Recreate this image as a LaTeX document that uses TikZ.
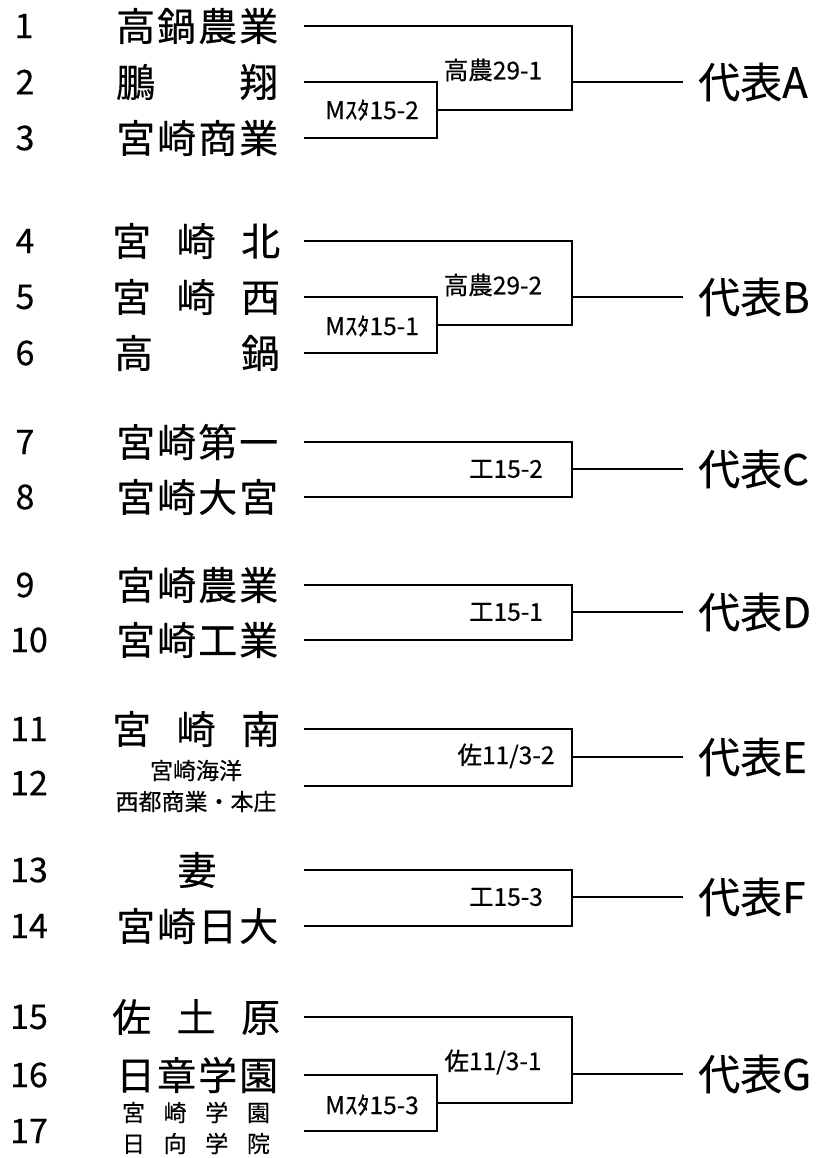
\documentclass[tikz,border=0pt]{standalone}
\usepackage{fontspec}
\newfontfamily\jp[FakeBold=0.4]{Noto Sans CJK JP}
\tikzset{
  wire/.style={line width=2.6pt, line cap=rect},
  num/.style={font=\jp\fontsize{34}{34}\selectfont, inner sep=0pt},
  team/.style={font=\jp\fontsize{39}{39}\selectfont, inner sep=0pt, anchor=west},
  teamc/.style={font=\jp\fontsize{39}{39}\selectfont, inner sep=0pt},
  small/.style={font=\jp\fontsize{23}{31}\selectfont, inner sep=0pt, align=center},
  score/.style={font=\jp\fontsize{24.5}{24.5}\selectfont, inner sep=0pt},
  rep/.style={font=\jp\fontsize{42}{42}\selectfont, inner xsep=16pt, inner ysep=0pt, anchor=west},
}
\begin{document}
\begin{tikzpicture}[x=1pt,y=-1pt]
\useasboundingbox (0,0) rectangle (821,1158);
% numbers
\node[num] (n1) at (24,26) {1};
\node[num] (n2) at (25,82) {2};
\node[num] (n3) at (25,138) {3};
\node[num] (n4) at (25,241) {4};
\node[num] (n5) at (25,297) {5};
\node[num] (n6) at (25,353) {6};
\node[num] (n7) at (25,442) {7};
\node[num] (n8) at (25,497) {8};
\node[num] (n9) at (25,585) {9};
\node[num] (n10) at (29,640) {10};
\node[num] (n11) at (29,729) {11};
\node[num] (n12) at (29,783) {12};
\node[num] (n13) at (29,870) {13};
\node[num] (n14) at (29,926) {14};
\node[num] (n15) at (29,1017) {15};
\node[num] (n16) at (29,1075) {16};
\node[num] (n17) at (29,1131) {17};
% teams
\node[team] (t1) at (116,26) {\makebox[162pt][s]{高\hfill 鍋\hfill 農\hfill 業}};
\node[team] (t2) at (116,82) {\makebox[162pt][s]{鵬\hfill 翔}};
\node[team] (t3) at (116,138) {\makebox[162pt][s]{宮\hfill 崎\hfill 商\hfill 業}};
\node[team] (t4) at (112,241) {\makebox[168pt][s]{宮\hfill 崎\hfill 北}};
\node[team] (t5) at (112,297) {\makebox[168pt][s]{宮\hfill 崎\hfill 西}};
\node[team] (t6) at (114,353) {\makebox[166pt][s]{高\hfill 鍋}};
\node[team] (t7) at (116,442) {\makebox[162pt][s]{宮\hfill 崎\hfill 第\hfill 一}};
\node[team] (t8) at (116,497) {\makebox[162pt][s]{宮\hfill 崎\hfill 大\hfill 宮}};
\node[team] (t9) at (116,585) {\makebox[162pt][s]{宮\hfill 崎\hfill 農\hfill 業}};
\node[team] (t10) at (116,640) {\makebox[162pt][s]{宮\hfill 崎\hfill 工\hfill 業}};
\node[team] (t11) at (112,729) {\makebox[168pt][s]{宮\hfill 崎\hfill 南}};
\node[small] (t12) at (196,786) {宮崎海洋\\西都商業・本庄};
\node[teamc] (t13) at (197,870) {妻};
\node[team] (t14) at (116,926) {\makebox[162pt][s]{宮\hfill 崎\hfill 日\hfill 大}};
\node[team] (t15) at (112,1017) {\makebox[168pt][s]{佐\hfill 土\hfill 原}};
\node[team] (t16) at (116,1075) {\makebox[162pt][s]{日\hfill 章\hfill 学\hfill 園}};
\node[small] (t17) at (196,1128) {\makebox[148pt][s]{宮\hfill 崎\hfill 学\hfill 園}\\\makebox[148pt][s]{日\hfill 向\hfill 学\hfill 院}};
% line starts
\foreach \n/\y in {1/26,2/82,3/138,4/241,5/297,6/353,7/442,8/497,9/585,10/640,11/729,12/786,13/870,14/926,15/1017,16/1075,17/1131}
  \coordinate (s\n) at (305,\y);
% inner junctions
\coordinate (mA) at (437,110);
\coordinate (mB) at (437,325);
\coordinate (mG) at (437,1103);
% outer junctions
\coordinate (rA) at (572,82);
\coordinate (rB) at (572,297);
\coordinate (rC) at (572,469);
\coordinate (rD) at (572,612);
\coordinate (rE) at (572,757);
\coordinate (rF) at (572,897);
\coordinate (rG) at (572,1074);
% representatives
\node[rep] (pA) at (682,82) {代表A};
\node[rep] (pB) at (682,297) {代表B};
\node[rep] (pC) at (682,469) {代表C};
\node[rep] (pD) at (682,612) {代表D};
\node[rep] (pE) at (682,757) {代表E};
\node[rep] (pF) at (682,897) {代表F};
\node[rep] (pG) at (682,1074) {代表G};
% group A
\draw[wire] (s2) -| (mA) |- (s3);
\draw[wire] (s1) -| (rA) |- (mA);
\draw[wire] (rA) -- (pA.west);
% group B
\draw[wire] (s5) -| (mB) |- (s6);
\draw[wire] (s4) -| (rB) |- (mB);
\draw[wire] (rB) -- (pB.west);
% group C-F
\draw[wire] (s7) -| (rC) |- (s8);
\draw[wire] (rC) -- (pC.west);
\draw[wire] (s9) -| (rD) |- (s10);
\draw[wire] (rD) -- (pD.west);
\draw[wire] (s11) -| (rE) |- (s12);
\draw[wire] (rE) -- (pE.west);
\draw[wire] (s13) -| (rF) |- (s14);
\draw[wire] (rF) -- (pF.west);
% group G
\draw[wire] (s16) -| (mG) |- (s17);
\draw[wire] (s15) -| (rG) |- (mG);
\draw[wire] (rG) -- (pG.west);
% scores
\node[score] (kA) at (493,70) {高農29-1};
\node[score] (qA) at (372,110) {Mｽﾀ15-2};
\node[score] (kB) at (493,285) {高農29-2};
\node[score] (qB) at (372,326) {Mｽﾀ15-1};
\node[score] (kC) at (506,469) {工15-2};
\node[score] (kD) at (506,612) {工15-1};
\node[score] (kE) at (506,756) {佐11/3-2};
\node[score] (kF) at (506,897) {工15-3};
\node[score] (kG) at (493,1062) {佐11/3-1};
\node[score] (qG) at (372,1105) {Mｽﾀ15-3};
\end{tikzpicture}
\end{document}
